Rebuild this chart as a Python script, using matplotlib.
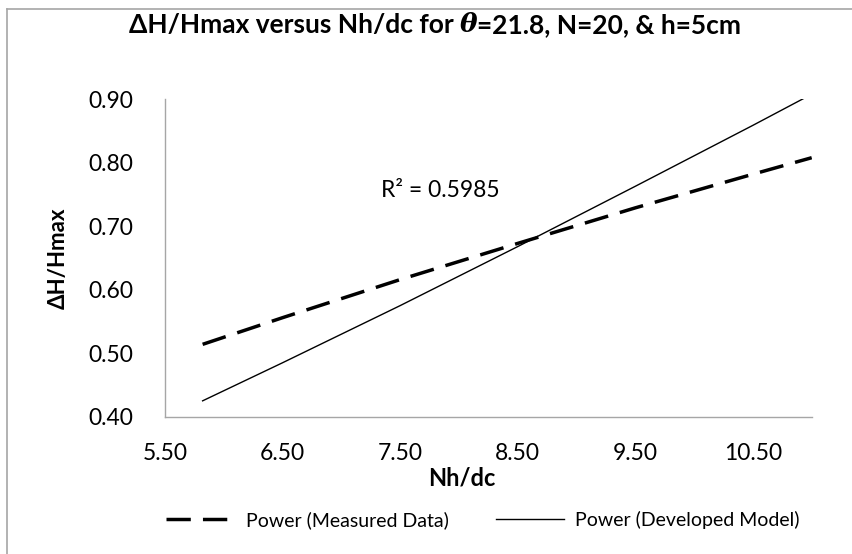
import numpy as np
import matplotlib
matplotlib.use('Agg')
import matplotlib.pyplot as plt
from matplotlib.lines import Line2D

nh_dc = [5.82, 6.5, 7.5, 8.5, 9.5, 10.5, 11.0]
dh_measured = [0.514, 0.556, 0.616, 0.673, 0.729, 0.782, 0.808]
dh_model = [0.425, 0.485, 0.575, 0.668, 0.763, 0.859, 0.908]
xticks = [5.5, 6.5, 7.5, 8.5, 9.5, 10.5]
yticks = [0.4, 0.5, 0.6, 0.7, 0.8, 0.9]
r2_text = 'R² = 0.5985'

plt.rcParams['font.family'] = ['Lato', 'DejaVu Sans']
W, H = 853, 554
fig = plt.figure(figsize=(W/100, H/100), dpi=100)
ax = fig.add_axes([165/W, 1-416.7/H, (811.7-165)/W, (416.7-99.3)/H])

ax.plot(nh_dc, dh_measured, color='black', lw=2.5, dashes=(7, 3.5),
        label='Power (Measured Data)')
ax.plot(nh_dc, dh_model, color='black', lw=1.0, label='Power (Developed Model)')

ax.set_xlim(5.5, 11.0)
ax.set_ylim(0.4, 0.9)
ax.set_xticks(xticks)
ax.set_yticks(yticks)
ax.set_xticklabels(['%.2f' % v for v in xticks])
ax.set_yticklabels(['%.2f' % v for v in yticks])
ax.tick_params(length=0, labelsize=16.5, colors='black')
ax.tick_params(axis='y', pad=23)
ax.tick_params(axis='x', pad=19)
for s in ['top', 'right']:
    ax.spines[s].set_visible(False)
for s in ['left', 'bottom']:
    ax.spines[s].set_color('#a6a6a6')
    ax.spines[s].set_linewidth(1.0)

ax.set_xlabel('Nh/dc', fontsize=17, fontweight='bold')
ax.xaxis.set_label_coords((462-165)/(811.7-165), -(478-416.7)/(416.7-99.3))
ax.xaxis.label.set_va('center')
ax.set_ylabel('ΔH/Hmax', fontsize=16, fontweight='bold')
ax.yaxis.set_label_coords(-(165-58)/(811.7-165), 0.5)
ax.yaxis.label.set_va('center')

ax.text(8.35, 0.757, r2_text, fontsize=16.5, ha='right', va='center')

# title with bold italic theta
tsize = 19
t1 = fig.text(0.1, 1-37/H, 'ΔH/Hmax versus Nh/dc for ', fontsize=tsize,
              fontweight='bold', ha='left', va='bottom')
t2 = ax.annotate('θ', xy=(1, 0), xycoords=t1, fontsize=tsize, fontweight='bold',
                 fontstyle='italic', family='DejaVu Serif', ha='left', va='bottom',
                 annotation_clip=False)
t3 = ax.annotate('=21.8, N=20, & h=5cm', xy=(1, 0), xycoords=t2, fontsize=tsize,
                 fontweight='bold', ha='left', va='bottom', annotation_clip=False)

leg = fig.legend(loc='center', bbox_to_anchor=(483/W, 1-520/H), ncol=2,
                 frameon=False, fontsize=14, handlelength=3.5,
                 columnspacing=2.4, handletextpad=0.6)

# chart border
fig.add_artist(Line2D([7/W, 7/W], [0, 1-9.3/H], color='#a6a6a6', lw=1.2))
fig.add_artist(Line2D([7/W, 1], [1-9.3/H, 1-9.3/H], color='#a6a6a6', lw=1.2))

fig.canvas.draw()
b1 = t1.get_window_extent()
b3 = t3.get_window_extent()
wid = b3.x1 - b1.x0
t1.set_x((435 - wid/2)/W)

fig.savefig('out.png', dpi=100)
